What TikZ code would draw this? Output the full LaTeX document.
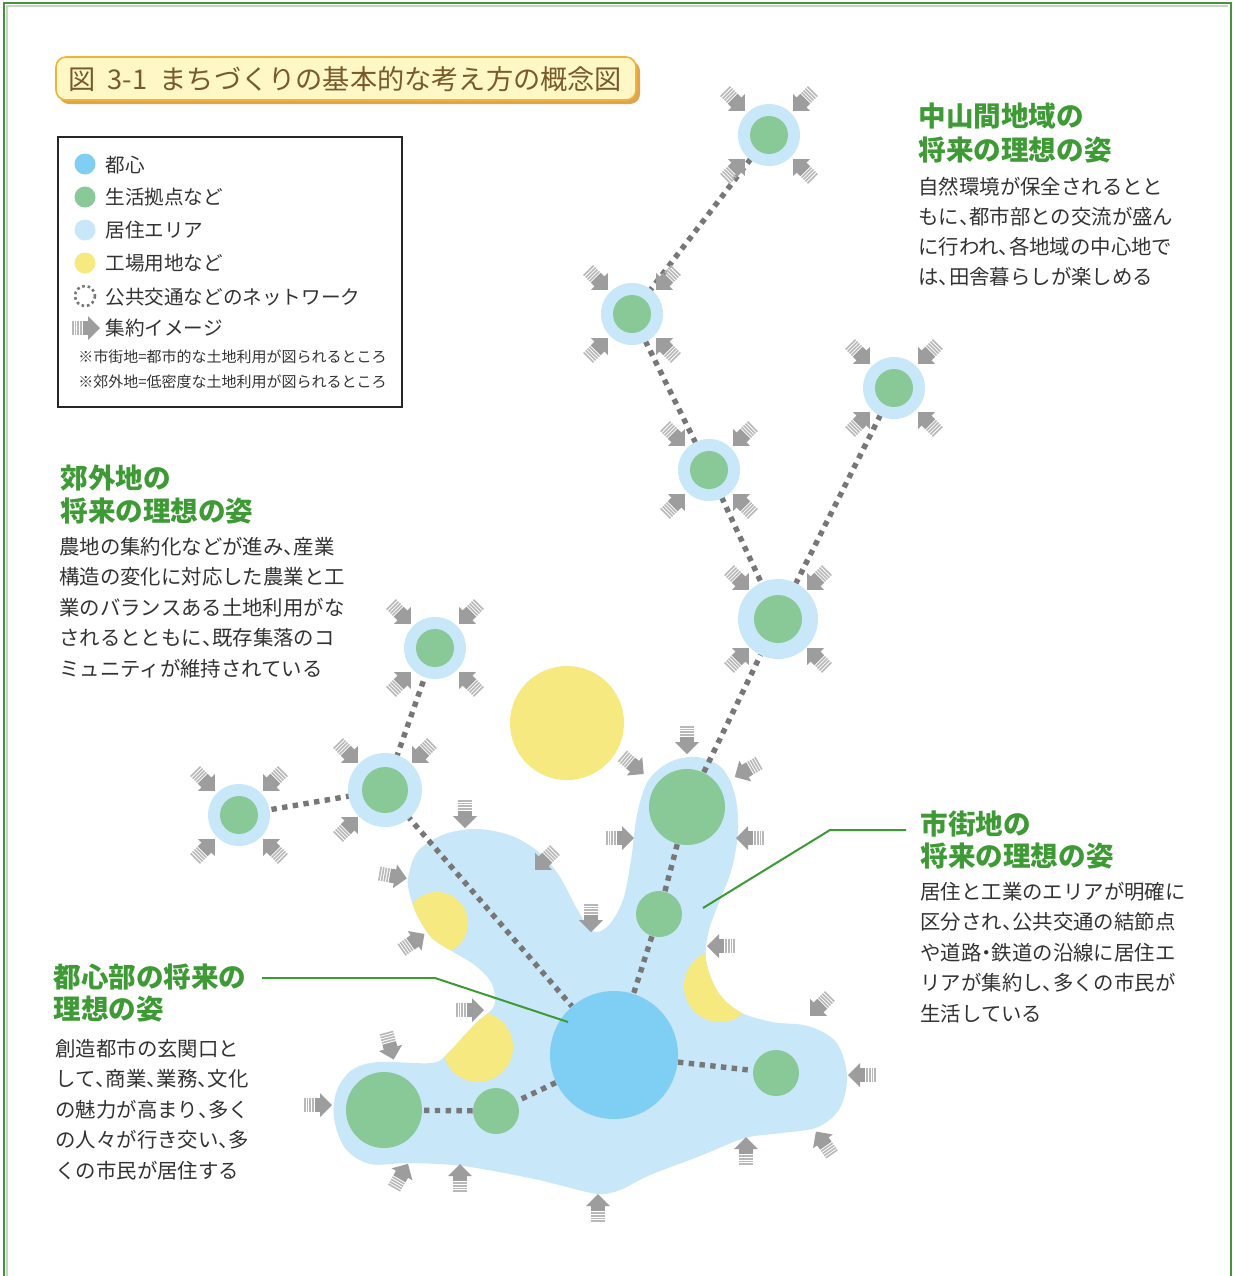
\documentclass[tikz,border=0pt]{standalone}
\usepackage{fontspec}
\newfontfamily\jp{Noto Sans CJK JP}
\definecolor{ring}{HTML}{C8E7F8}
\definecolor{hubgreen}{HTML}{89C997}
\definecolor{core}{HTML}{7FCEF4}
\definecolor{ylw}{HTML}{F5E97F}
\definecolor{agray}{HTML}{9D9D9D}
\definecolor{astripe}{HTML}{B8B8B8}
\definecolor{dotgray}{HTML}{777777}
\definecolor{headgreen}{HTML}{3E9A34}
\definecolor{bodytext}{HTML}{333333}
\definecolor{framegreen}{HTML}{4A9040}
\definecolor{titlebrown}{HTML}{7A5A2C}
\definecolor{titlefill}{HTML}{FFF8C6}
\definecolor{titleedge}{HTML}{F2B236}
\definecolor{titleshadow}{HTML}{DDA550}
\pgfdeclarelayer{bgl}
\pgfdeclarelayer{blobl}
\pgfdeclarelayer{netl}
\pgfsetlayers{bgl,blobl,netl,main}
\newcommand\hc{\makebox[0.5em][l]{、}}
\newcommand\nd{\makebox[0.5em][c]{・}}
\newcommand\blobshape{plot[smooth cycle, tension=0.55] coordinates {
(408,878) (418,851) (445,834) (478,829) (512,836) (540,853) (560,877) (576,907) (592,931) (608,926) (623,900) (631,860) (637,815) (648,781) (670,762) (697,757) (722,768) (735,795) (738,830) (732,868) (720,900) (709,930) (706,960) (718,992) (740,1012) (772,1022) (808,1026) (836,1042) (847,1075) (840,1108) (818,1127) (782,1133) (745,1138) (700,1156) (650,1175) (620,1190) (598,1194) (563,1186) (530,1178) (463,1166) (410,1163) (370,1164) (345,1148) (334,1118) (337,1090) (352,1070) (378,1062) (432,1063) (448,1053) (462,1038) (477,1022) (494,1006) (492,984) (476,966) (455,953) (432,938) (417,915) (410,895)}}
\tikzset{
 ringc/.style={circle, fill=ring, inner sep=0pt, minimum size=#1},
 hubc/.style={circle, fill=hubgreen, inner sep=0pt, minimum size=#1},
 net/.style={draw=dotgray, line width=2.7pt, dash pattern=on 2.7pt off 2.7pt},
 lead/.style={draw=headgreen, line width=1pt},
 head/.style={anchor=base west, inner sep=0pt, text=headgreen, font=\jp\bfseries\fontsize{13.8}{16}\selectfont},
 body/.style={anchor=base west, inner sep=0pt, text=bodytext, font=\jp\fontsize{10.2}{12}\selectfont},
 legt/.style={anchor=base west, inner sep=0pt, text=bodytext, font=\jp\fontsize{9.8}{12}\selectfont},
 note/.style={anchor=base west, inner sep=0pt, text=bodytext, font=\jp\fontsize{7.5}{9}\selectfont},
 garrow/.pic={
   \fill[agray] (-3.2,-7) rectangle (2.5,7);
   \fill[agray] (2,-12) -- (14,0) -- (2,12) -- cycle;
   \foreach \s in {-14,-11.3,-8.6,-5.9} \fill[astripe] (\s,-7) rectangle ++(1.6,14);
 }
}
\begin{document}
\begin{tikzpicture}[x=0.5pt,y=-0.5pt]
\useasboundingbox (0,0) rectangle (1234,1276);
\begin{pgfonlayer}{bgl}
\fill[white] (0,0) rectangle (1234,1276);
\end{pgfonlayer}
% frame
\draw[framegreen, line width=1pt] (4,1276) -- (4,3) -- (1231,3) -- (1231,1276);
\draw[framegreen!35, line width=0.6pt] (7,1276) -- (7,6) -- (1228,6);
% title
\fill[titleshadow, rounded corners=5pt] (59,61) rectangle (640,104);
\draw[titleedge, fill=titlefill, line width=0.8pt, rounded corners=5pt] (56,57) rectangle (636,100);
\node[anchor=base west, inner sep=0pt, text=titlebrown, font=\jp\fontsize{13.6}{16}\selectfont] (title) at (68,89) {図\hspace{0.45em}3-1\hspace{0.45em}まちづくりの基本的な考え方の概念図};
% legend
\draw[black!85, line width=0.6pt] (58,137) rectangle (402,407);
\node[circle, fill=core, inner sep=0pt, minimum size=10.5] (lg1) at (85,164) {};
\node[circle, fill=hubgreen, inner sep=0pt, minimum size=10.5] (lg2) at (85,197) {};
\node[circle, fill=ring, inner sep=0pt, minimum size=10.5] (lg3) at (85,230) {};
\node[circle, fill=ylw, inner sep=0pt, minimum size=10.5] (lg4) at (85,263) {};
\draw[dotgray, line width=1.3pt, dash pattern=on 1.3pt off 1.45pt] (85,296) circle (10);
\pic at (86,328) {garrow};
\node[legt] (lt1) at (105,172.5) {都心};
\node[legt] (lt2) at (105,204.5) {生活拠点など};
\node[legt] (lt3) at (105,237.5) {居住エリア};
\node[legt] (lt4) at (105,270.5) {工場用地など};
\node[legt] (lt5) at (105,304) {公共交通などのネットワーク};
\node[legt] (lt6) at (105,335.5) {集約イメージ};
\node[note] (nt1) at (78,362) {※市街地=都市的な土地利用が図られるところ};
\node[note] (nt2) at (78,387) {※郊外地=低密度な土地利用が図られるところ};
% blob
\begin{pgfonlayer}{blobl}
\fill[ring] \blobshape;
\begin{scope}
\clip \blobshape;
\fill[ylw] (437,923) circle (31);
\fill[ylw] (478,1047) circle (35);
\fill[ylw] (720,986) circle (36);
\end{scope}
\end{pgfonlayer}
% big yellow
\node[circle, fill=ylw, inner sep=0pt, minimum size=57] (yb) at (567,723) {};
% hubs
\node[ringc=31] (h1r) at (769,135) {};  \node[hubc=19] (h1) at (769,135) {};
\node[ringc=31] (h2r) at (632,314) {};  \node[hubc=19] (h2) at (632,314) {};
\node[ringc=31] (h3r) at (709,470) {};  \node[hubc=19] (h3) at (709,470) {};
\node[ringc=31] (h4r) at (894,388) {};  \node[hubc=19] (h4) at (894,388) {};
\node[ringc=40] (h5r) at (778,619) {};  \node[hubc=24] (h5) at (778,619) {};
\node[ringc=31] (h6r) at (435,648) {};  \node[hubc=19] (h6) at (435,648) {};
\node[ringc=37] (h7r) at (385,790) {};  \node[hubc=23] (h7) at (385,790) {};
\node[ringc=31] (h8r) at (239,815) {};  \node[hubc=19] (h8) at (239,815) {};
\node[hubc=38] (g1) at (687,807) {};
\node[hubc=23] (g2) at (659,914) {};
\node[hubc=23] (g3) at (776,1073) {};
\node[hubc=38] (g4) at (384,1110) {};
\node[hubc=23] (g5) at (496,1111) {};
\node[circle, fill=core, inner sep=0pt, minimum size=64] (core) at (614,1055) {};
% network
\begin{pgfonlayer}{netl}
\draw[net] (h1) -- (h2);
\draw[net] (h2) -- (h3);
\draw[net] (h3) -- (h5);
\draw[net] (h4) -- (h5);
\draw[net] (h5) -- (g1);
\draw[net] (g1) -- (g2);
\draw[net] (g2) -- (core);
\draw[net] (core) -- (g3);
\draw[net] (core) -- (g5);
\draw[net] (g5) -- (g4);
\draw[net] (h7) -- (core);
\draw[net] (h7) -- (h8);
\draw[net] (h7) -- (h6);
\end{pgfonlayer}
% arrows around hubs
\foreach \cx/\cy/\d in {769/135/34, 632/314/34, 709/470/34, 894/388/34, 778/619/39, 435/648/34, 239/815/34}{
  \pic[rotate=-45] at (\cx-\d,\cy-\d) {garrow};
  \pic[rotate=-135] at (\cx+\d,\cy-\d) {garrow};
  \pic[rotate=45] at (\cx-\d,\cy+\d) {garrow};
  \pic[rotate=135] at (\cx+\d,\cy+\d) {garrow};
}
\pic[rotate=-45] at (348,753) {garrow};
\pic[rotate=-135] at (422,753) {garrow};
\pic[rotate=45] at (348,827) {garrow};
% arrows around the urban area
\foreach \x/\y/\a in {465/814/-90, 545/860/-135, 591/918/-90, 393/876/-10, 413/942/35, 470/1010/0, 390/1046/-75, 318/1105/0, 401/1176/60, 460/1178/90, 598/1208/90, 746/1151/90, 824/1143/125, 862/1075/180, 820/1006/-135, 721/946/180, 750/838/180, 620/838/0, 633/765/-40, 687/740/-90, 747/770/-150}{
  \pic[rotate=\a] at (\x,\y) {garrow};
}
% leaders
\coordinate (la1) at (703,908);
\coordinate (la2) at (830,830);
\coordinate (la3) at (906,830);
\draw[lead] (la1) -- (la2) -- (la3);
\coordinate (lb1) at (262,978);
\coordinate (lb2) at (435,978);
\coordinate (lb3) at (568,1022);
\draw[lead] (lb1) -- (lb2) -- (lb3);
% text blocks
\node[head] (a1) at (918,126) {中山間地域の};
\node[head] (a2) at (918,160) {将来の理想の姿};
\node[body] (a3) at (918,194) {自然環境が保全されるとと};
\node[body] (a4) at (918,224.2) {もに\hc 都市部との交流が盛ん};
\node[body] (a5) at (918,254.4) {に行われ\hc 各地域の中心地で};
\node[body] (a6) at (918,284.6) {は\hc 田舎暮らしが楽しめる};
\node[head] (b1) at (60,488) {郊外地の};
\node[head] (b2) at (60,521) {将来の理想の姿};
\node[body] (b3) at (59,554) {農地の集約化などが進み\hc 産業};
\node[body] (b4) at (59,584.5) {構造の変化に対応した農業と工};
\node[body] (b5) at (59,615) {業のバランスある土地利用がな};
\node[body] (b6) at (59,645.5) {されるとともに\hc 既存集落のコ};
\node[body] (b7) at (59,676) {ミュニティが維持されている};
\node[head] (c1) at (920,834) {市街地の};
\node[head] (c2) at (920,866) {将来の理想の姿};
\node[body] (c3) at (920,899) {居住と工業のエリアが明確に};
\node[body] (c4) at (920,929.5) {区分され\hc 公共交通の結節点};
\node[body] (c5) at (920,960) {や道路\nd 鉄道の沿線に居住エ};
\node[body] (c6) at (920,990.5) {リアが集約し\hc 多くの市民が};
\node[body] (c7) at (920,1021) {生活している};
\node[head] (d1) at (53,987) {都心部の将来の};
\node[head] (d2) at (53,1019) {理想の姿};
\node[body] (d3) at (55,1056) {創造都市の玄関口と};
\node[body] (d4) at (55,1086.5) {して\hc 商業\hc 業務\hc 文化};
\node[body] (d5) at (55,1117) {の魅力が高まり\hc 多く};
\node[body] (d6) at (55,1147.5) {の人々が行き交い\hc 多};
\node[body] (d7) at (55,1178) {くの市民が居住する};
\end{tikzpicture}
\end{document}
